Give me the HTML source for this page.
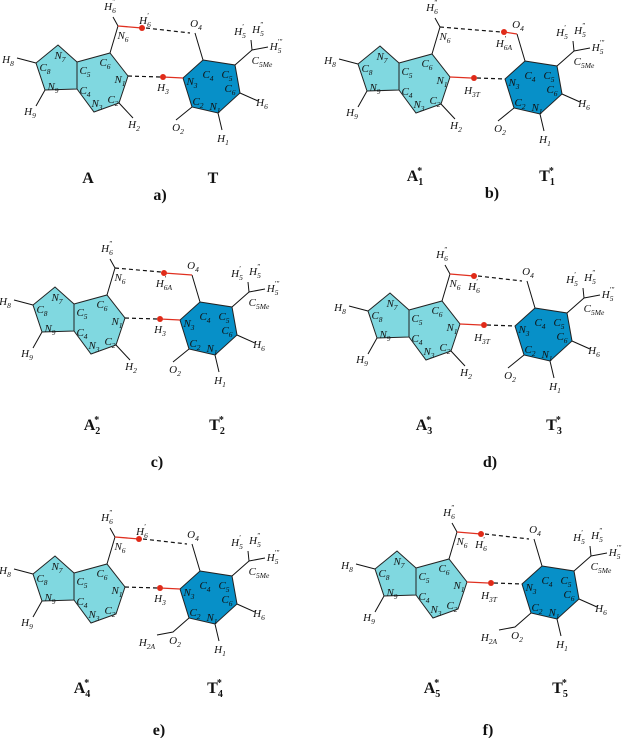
<!DOCTYPE html>
<html><head><meta charset="utf-8"><style>
html,body{margin:0;padding:0;background:#fff}
svg{display:block}
.p{fill:#80d8e0;stroke:#222;stroke-width:1}
.q{fill:#0790c8;stroke:#222;stroke-width:1}
.k{stroke:#111;stroke-width:1;fill:none}
.r{stroke:#e03020;stroke-width:1.3;fill:none}
.d{stroke:#111;stroke-width:1.2;fill:none;stroke-dasharray:4,3}
.dot{fill:#e02a18}
text{font-family:"Liberation Serif",serif;font-style:italic;font-size:11px;fill:#111;text-anchor:middle}
.s{font-size:7.5px}
.L{font-style:normal;font-weight:bold;font-size:16px}
.L .s{font-size:10px}
</style></head><body>
<svg width="624" height="738" viewBox="0 0 624 738" xmlns="http://www.w3.org/2000/svg">

<!-- panel a -->
<g transform="translate(0,0)">
<polygon class="p" points="77,62 58,45 36,63 45,90 77,89"/>
<polygon class="p" points="77,62 110,53 128,76 119,103 94,112 77,89"/>
<polygon class="q" points="203,60 235,65 240,93 218,113 192,107 183,78"/>
<path class="k" d="M17,58L36,63M45,90L36,106M119,103L133,118M110,53L118,26M118,26L113,17M195,33L203,60M235,65L252,50M252,50L268,47M252,50L251,40M240,93L258,101M218,113L222,130M192,107L176,120"/>
<path class="r" d="M118,26L142,28"/><circle class="dot" cx="142" cy="28" r="3"/><path class="d" d="M146,28L190,33"/>
<path class="d" d="M128,76L160,77"/><circle class="dot" cx="163" cy="77" r="3"/><path class="r" d="M163,77L183,78"/>
<text x="145" y="24">H<tspan class="s" dy="3">6</tspan><tspan class="s" dx="-4" dy="-9">'</tspan></text>
<text x="163" y="91">H<tspan class="s" dy="3">3</tspan></text>
<text x="60" y="59">N<tspan class="s" dy="3">7</tspan></text><text x="45" y="71">C<tspan class="s" dy="3">8</tspan></text><text x="53" y="90">N<tspan class="s" dy="3">9</tspan></text><text x="85" y="74">C<tspan class="s" dy="3">5</tspan></text><text x="85" y="94">C<tspan class="s" dy="3">4</tspan></text><text x="105" y="66">C<tspan class="s" dy="3">6</tspan></text><text x="120" y="83">N<tspan class="s" dy="3">1</tspan></text><text x="113" y="103">C<tspan class="s" dy="3">2</tspan></text><text x="97" y="107">N<tspan class="s" dy="3">3</tspan></text><text x="123" y="39">N<tspan class="s" dy="3">6</tspan></text>
<text x="208" y="78">C<tspan class="s" dy="3">4</tspan></text><text x="227" y="78">C<tspan class="s" dy="3">5</tspan></text><text x="192" y="85">N<tspan class="s" dy="3">3</tspan></text><text x="230" y="92">C<tspan class="s" dy="3">6</tspan></text><text x="198" y="105">C<tspan class="s" dy="3">2</tspan></text><text x="215" y="110">N<tspan class="s" dy="3">1</tspan></text>
<text x="8" y="63">H<tspan class="s" dy="3">8</tspan></text><text x="30" y="115">H<tspan class="s" dy="3">9</tspan></text><text x="134" y="128">H<tspan class="s" dy="3">2</tspan></text><text x="110" y="10">H<tspan class="s" dy="3">6</tspan><tspan class="s" dx="-4" dy="-9">"</tspan></text><text x="196" y="27">O<tspan class="s" dy="3">4</tspan></text><text x="262" y="106">H<tspan class="s" dy="3">6</tspan></text><text x="223" y="142">H<tspan class="s" dy="3">1</tspan></text><text x="178" y="131">O<tspan class="s" dy="3">2</tspan></text>
<text x="240" y="35">H<tspan class="s" dy="3">5</tspan><tspan class="s" dx="-4" dy="-9">'</tspan></text><text x="258" y="33">H<tspan class="s" dy="3">5</tspan><tspan class="s" dx="-4" dy="-9">"</tspan></text><text x="276" y="50">H<tspan class="s" dy="3">5</tspan><tspan class="s" dx="-4" dy="-9">'"</tspan></text><text x="262" y="64">C<tspan class="s" dy="3">5Me</tspan></text>
</g>
<text class="L" x="88" y="183">A</text><text class="L" x="213" y="183">T</text><text class="L" x="160" y="200">a)</text>

<!-- panel b -->
<g transform="translate(322,1)">
<polygon class="p" points="77,62 58,45 36,63 45,90 77,89"/>
<polygon class="p" points="77,62 110,53 128,76 119,103 94,112 77,89"/>
<polygon class="q" points="203,60 235,65 240,93 218,113 192,107 183,78"/>
<path class="k" d="M17,58L36,63M45,90L36,106M119,103L133,118M110,53L118,26M118,26L113,17M195,33L203,60M235,65L252,50M252,50L268,47M252,50L251,40M240,93L258,101M218,113L222,130M192,107L176,120"/>
<path class="d" d="M118,26L179,31"/><circle class="dot" cx="182" cy="31" r="3"/><path class="r" d="M182,31L195,33"/>
<path class="r" d="M128,76L149,77"/><circle class="dot" cx="152" cy="77" r="3"/><path class="d" d="M155,77L183,78"/>
<text x="182" y="46">H<tspan class="s" dy="3">6A</tspan><tspan class="s" dx="-8" dy="-9">'</tspan></text>
<text x="150" y="93">H<tspan class="s" dy="3">3T</tspan></text>
<text x="60" y="59">N<tspan class="s" dy="3">7</tspan></text><text x="45" y="71">C<tspan class="s" dy="3">8</tspan></text><text x="53" y="90">N<tspan class="s" dy="3">9</tspan></text><text x="85" y="74">C<tspan class="s" dy="3">5</tspan></text><text x="85" y="94">C<tspan class="s" dy="3">4</tspan></text><text x="105" y="66">C<tspan class="s" dy="3">6</tspan></text><text x="120" y="83">N<tspan class="s" dy="3">1</tspan></text><text x="113" y="103">C<tspan class="s" dy="3">2</tspan></text><text x="97" y="107">N<tspan class="s" dy="3">3</tspan></text><text x="123" y="39">N<tspan class="s" dy="3">6</tspan></text>
<text x="208" y="78">C<tspan class="s" dy="3">4</tspan></text><text x="227" y="78">C<tspan class="s" dy="3">5</tspan></text><text x="192" y="85">N<tspan class="s" dy="3">3</tspan></text><text x="230" y="92">C<tspan class="s" dy="3">6</tspan></text><text x="198" y="105">C<tspan class="s" dy="3">2</tspan></text><text x="215" y="110">N<tspan class="s" dy="3">1</tspan></text>
<text x="8" y="63">H<tspan class="s" dy="3">8</tspan></text><text x="30" y="115">H<tspan class="s" dy="3">9</tspan></text><text x="134" y="128">H<tspan class="s" dy="3">2</tspan></text><text x="110" y="10">H<tspan class="s" dy="3">6</tspan><tspan class="s" dx="-4" dy="-9">"</tspan></text><text x="196" y="27">O<tspan class="s" dy="3">4</tspan></text><text x="262" y="106">H<tspan class="s" dy="3">6</tspan></text><text x="223" y="142">H<tspan class="s" dy="3">1</tspan></text><text x="178" y="131">O<tspan class="s" dy="3">2</tspan></text>
<text x="240" y="35">H<tspan class="s" dy="3">5</tspan><tspan class="s" dx="-4" dy="-9">'</tspan></text><text x="258" y="33">H<tspan class="s" dy="3">5</tspan><tspan class="s" dx="-4" dy="-9">"</tspan></text><text x="276" y="50">H<tspan class="s" dy="3">5</tspan><tspan class="s" dx="-4" dy="-9">'"</tspan></text><text x="262" y="64">C<tspan class="s" dy="3">5Me</tspan></text>
</g>
<text class="L" x="415" y="181">A<tspan class="s" dy="4">1</tspan><tspan class="s" dx="-6" dy="-11">*</tspan></text><text class="L" x="547" y="181">T<tspan class="s" dy="4">1</tspan><tspan class="s" dx="-6" dy="-11">*</tspan></text><text class="L" x="492" y="198">b)</text>

<!-- panel c -->
<g transform="translate(-3,242)">
<polygon class="p" points="77,62 58,45 36,63 45,90 77,89"/>
<polygon class="p" points="77,62 110,53 128,76 119,103 94,112 77,89"/>
<polygon class="q" points="203,60 235,65 240,93 218,113 192,107 183,78"/>
<path class="k" d="M17,58L36,63M45,90L36,106M119,103L133,118M110,53L118,26M118,26L113,17M195,33L203,60M235,65L252,50M252,50L268,47M252,50L251,40M240,93L258,101M218,113L222,130M192,107L176,120"/>
<path class="d" d="M118,26L164,30"/><circle class="dot" cx="167" cy="31" r="3"/><path class="r" d="M167,31L195,33"/>
<path class="d" d="M128,76L160,77"/><circle class="dot" cx="163" cy="77" r="3"/><path class="r" d="M163,77L183,78"/>
<text x="167" y="45">H<tspan class="s" dy="3">6A</tspan><tspan class="s" dx="-8" dy="-9">'</tspan></text>
<text x="163" y="91">H<tspan class="s" dy="3">3</tspan></text>
<text x="60" y="59">N<tspan class="s" dy="3">7</tspan></text><text x="45" y="71">C<tspan class="s" dy="3">8</tspan></text><text x="53" y="90">N<tspan class="s" dy="3">9</tspan></text><text x="85" y="74">C<tspan class="s" dy="3">5</tspan></text><text x="85" y="94">C<tspan class="s" dy="3">4</tspan></text><text x="105" y="66">C<tspan class="s" dy="3">6</tspan></text><text x="120" y="83">N<tspan class="s" dy="3">1</tspan></text><text x="113" y="103">C<tspan class="s" dy="3">2</tspan></text><text x="97" y="107">N<tspan class="s" dy="3">3</tspan></text><text x="123" y="39">N<tspan class="s" dy="3">6</tspan></text>
<text x="208" y="78">C<tspan class="s" dy="3">4</tspan></text><text x="227" y="78">C<tspan class="s" dy="3">5</tspan></text><text x="192" y="85">N<tspan class="s" dy="3">3</tspan></text><text x="230" y="92">C<tspan class="s" dy="3">6</tspan></text><text x="198" y="105">C<tspan class="s" dy="3">2</tspan></text><text x="215" y="110">N<tspan class="s" dy="3">1</tspan></text>
<text x="8" y="63">H<tspan class="s" dy="3">8</tspan></text><text x="30" y="115">H<tspan class="s" dy="3">9</tspan></text><text x="134" y="128">H<tspan class="s" dy="3">2</tspan></text><text x="110" y="10">H<tspan class="s" dy="3">6</tspan><tspan class="s" dx="-4" dy="-9">"</tspan></text><text x="196" y="27">O<tspan class="s" dy="3">4</tspan></text><text x="262" y="106">H<tspan class="s" dy="3">6</tspan></text><text x="223" y="142">H<tspan class="s" dy="3">1</tspan></text><text x="178" y="131">O<tspan class="s" dy="3">2</tspan></text>
<text x="240" y="35">H<tspan class="s" dy="3">5</tspan><tspan class="s" dx="-4" dy="-9">'</tspan></text><text x="258" y="33">H<tspan class="s" dy="3">5</tspan><tspan class="s" dx="-4" dy="-9">"</tspan></text><text x="276" y="50">H<tspan class="s" dy="3">5</tspan><tspan class="s" dx="-4" dy="-9">'"</tspan></text><text x="262" y="64">C<tspan class="s" dy="3">5Me</tspan></text>
</g>
<text class="L" x="92" y="430">A<tspan class="s" dy="4">2</tspan><tspan class="s" dx="-6" dy="-11">*</tspan></text><text class="L" x="217" y="430">T<tspan class="s" dy="4">2</tspan><tspan class="s" dx="-6" dy="-11">*</tspan></text><text class="L" x="157" y="467">c)</text>

<!-- panel d -->
<g transform="translate(332,248)">
<polygon class="p" points="77,62 58,45 36,63 45,90 77,89"/>
<polygon class="p" points="77,62 110,53 128,76 119,103 94,112 77,89"/>
<polygon class="q" points="203,60 235,65 240,93 218,113 192,107 183,78"/>
<path class="k" d="M17,58L36,63M45,90L36,106M119,103L133,118M110,53L118,26M118,26L113,17M195,33L203,60M235,65L252,50M252,50L268,47M252,50L251,40M240,93L258,101M218,113L222,130M192,107L176,120"/>
<path class="r" d="M118,26L142,28"/><circle class="dot" cx="142" cy="28" r="3"/><path class="d" d="M146,28L190,33"/>
<path class="r" d="M128,76L149,77"/><circle class="dot" cx="152" cy="77" r="3"/><path class="d" d="M155,77L183,78"/>
<text x="142" y="42">H<tspan class="s" dy="3">6</tspan><tspan class="s" dx="-4" dy="-9">'</tspan></text>
<text x="150" y="93">H<tspan class="s" dy="3">3T</tspan></text>
<text x="60" y="59">N<tspan class="s" dy="3">7</tspan></text><text x="45" y="71">C<tspan class="s" dy="3">8</tspan></text><text x="53" y="90">N<tspan class="s" dy="3">9</tspan></text><text x="85" y="74">C<tspan class="s" dy="3">5</tspan></text><text x="85" y="94">C<tspan class="s" dy="3">4</tspan></text><text x="105" y="66">C<tspan class="s" dy="3">6</tspan></text><text x="120" y="83">N<tspan class="s" dy="3">1</tspan></text><text x="113" y="103">C<tspan class="s" dy="3">2</tspan></text><text x="97" y="107">N<tspan class="s" dy="3">3</tspan></text><text x="123" y="39">N<tspan class="s" dy="3">6</tspan></text>
<text x="208" y="78">C<tspan class="s" dy="3">4</tspan></text><text x="227" y="78">C<tspan class="s" dy="3">5</tspan></text><text x="192" y="85">N<tspan class="s" dy="3">3</tspan></text><text x="230" y="92">C<tspan class="s" dy="3">6</tspan></text><text x="198" y="105">C<tspan class="s" dy="3">2</tspan></text><text x="215" y="110">N<tspan class="s" dy="3">1</tspan></text>
<text x="8" y="63">H<tspan class="s" dy="3">8</tspan></text><text x="30" y="115">H<tspan class="s" dy="3">9</tspan></text><text x="134" y="128">H<tspan class="s" dy="3">2</tspan></text><text x="110" y="10">H<tspan class="s" dy="3">6</tspan><tspan class="s" dx="-4" dy="-9">"</tspan></text><text x="196" y="27">O<tspan class="s" dy="3">4</tspan></text><text x="262" y="106">H<tspan class="s" dy="3">6</tspan></text><text x="223" y="142">H<tspan class="s" dy="3">1</tspan></text><text x="178" y="131">O<tspan class="s" dy="3">2</tspan></text>
<text x="240" y="35">H<tspan class="s" dy="3">5</tspan><tspan class="s" dx="-4" dy="-9">'</tspan></text><text x="258" y="33">H<tspan class="s" dy="3">5</tspan><tspan class="s" dx="-4" dy="-9">"</tspan></text><text x="276" y="50">H<tspan class="s" dy="3">5</tspan><tspan class="s" dx="-4" dy="-9">'"</tspan></text><text x="262" y="64">C<tspan class="s" dy="3">5Me</tspan></text>
</g>
<text class="L" x="424" y="430">A<tspan class="s" dy="4">3</tspan><tspan class="s" dx="-6" dy="-11">*</tspan></text><text class="L" x="554" y="430">T<tspan class="s" dy="4">3</tspan><tspan class="s" dx="-6" dy="-11">*</tspan></text><text class="L" x="490" y="467">d)</text>

<!-- panel e -->
<g transform="translate(-3,511)">
<polygon class="p" points="77,62 58,45 36,63 45,90 77,89"/>
<polygon class="p" points="77,62 110,53 128,76 119,103 94,112 77,89"/>
<polygon class="q" points="203,60 235,65 240,93 218,113 192,107 183,78"/>
<path class="k" d="M17,58L36,63M45,90L36,106M110,53L118,26M118,26L113,17M195,33L203,60M235,65L252,50M252,50L268,47M252,50L251,40M240,93L258,101M218,113L222,130M192,107L176,121L160,124"/>
<path class="r" d="M118,26L142,28"/><circle class="dot" cx="142" cy="28" r="3"/><path class="d" d="M146,28L190,33"/>
<path class="d" d="M128,76L160,77"/><circle class="dot" cx="163" cy="77" r="3"/><path class="r" d="M163,77L183,78"/>
<text x="145" y="24">H<tspan class="s" dy="3">6</tspan><tspan class="s" dx="-4" dy="-9">'</tspan></text>
<text x="163" y="91">H<tspan class="s" dy="3">3</tspan></text>
<text x="60" y="59">N<tspan class="s" dy="3">7</tspan></text><text x="45" y="71">C<tspan class="s" dy="3">8</tspan></text><text x="53" y="90">N<tspan class="s" dy="3">9</tspan></text><text x="85" y="74">C<tspan class="s" dy="3">5</tspan></text><text x="85" y="94">C<tspan class="s" dy="3">4</tspan></text><text x="105" y="66">C<tspan class="s" dy="3">6</tspan></text><text x="120" y="83">N<tspan class="s" dy="3">1</tspan></text><text x="113" y="103">C<tspan class="s" dy="3">2</tspan></text><text x="97" y="107">N<tspan class="s" dy="3">3</tspan></text><text x="123" y="39">N<tspan class="s" dy="3">6</tspan></text>
<text x="208" y="78">C<tspan class="s" dy="3">4</tspan></text><text x="227" y="78">C<tspan class="s" dy="3">5</tspan></text><text x="192" y="85">N<tspan class="s" dy="3">3</tspan></text><text x="230" y="92">C<tspan class="s" dy="3">6</tspan></text><text x="198" y="105">C<tspan class="s" dy="3">2</tspan></text><text x="215" y="110">N<tspan class="s" dy="3">1</tspan></text>
<text x="8" y="63">H<tspan class="s" dy="3">8</tspan></text><text x="30" y="115">H<tspan class="s" dy="3">9</tspan></text><text x="110" y="10">H<tspan class="s" dy="3">6</tspan><tspan class="s" dx="-4" dy="-9">"</tspan></text><text x="196" y="27">O<tspan class="s" dy="3">4</tspan></text><text x="262" y="106">H<tspan class="s" dy="3">6</tspan></text><text x="223" y="142">H<tspan class="s" dy="3">1</tspan></text><text x="178" y="133">O<tspan class="s" dy="3">2</tspan></text><text x="150" y="135">H<tspan class="s" dy="3">2A</tspan></text>
<text x="240" y="35">H<tspan class="s" dy="3">5</tspan><tspan class="s" dx="-4" dy="-9">'</tspan></text><text x="258" y="33">H<tspan class="s" dy="3">5</tspan><tspan class="s" dx="-4" dy="-9">"</tspan></text><text x="276" y="50">H<tspan class="s" dy="3">5</tspan><tspan class="s" dx="-4" dy="-9">'"</tspan></text><text x="262" y="64">C<tspan class="s" dy="3">5Me</tspan></text>
</g>
<text class="L" x="82" y="693">A<tspan class="s" dy="4">4</tspan><tspan class="s" dx="-6" dy="-11">*</tspan></text><text class="L" x="215" y="693">T<tspan class="s" dy="4">4</tspan><tspan class="s" dx="-6" dy="-11">*</tspan></text><text class="L" x="159" y="735">e)</text>

<!-- panel f -->
<g transform="translate(339,506)">
<polygon class="p" points="77,62 58,45 36,63 45,90 77,89"/>
<polygon class="p" points="77,62 110,53 128,76 119,103 94,112 77,89"/>
<polygon class="q" points="203,60 235,65 240,93 218,113 192,107 183,78"/>
<path class="k" d="M17,58L36,63M45,90L36,106M110,53L118,26M118,26L113,17M195,33L203,60M235,65L252,50M252,50L268,47M252,50L251,40M240,93L258,101M218,113L222,130M192,107L176,121L160,124"/>
<path class="r" d="M118,26L142,28"/><circle class="dot" cx="142" cy="28" r="3"/><path class="d" d="M146,28L190,33"/>
<path class="r" d="M128,76L149,77"/><circle class="dot" cx="152" cy="77" r="3"/><path class="d" d="M155,77L183,78"/>
<text x="142" y="42">H<tspan class="s" dy="3">6</tspan><tspan class="s" dx="-4" dy="-9">'</tspan></text>
<text x="150" y="93">H<tspan class="s" dy="3">3T</tspan></text>
<text x="60" y="59">N<tspan class="s" dy="3">7</tspan></text><text x="45" y="71">C<tspan class="s" dy="3">8</tspan></text><text x="53" y="90">N<tspan class="s" dy="3">9</tspan></text><text x="85" y="74">C<tspan class="s" dy="3">5</tspan></text><text x="85" y="94">C<tspan class="s" dy="3">4</tspan></text><text x="105" y="66">C<tspan class="s" dy="3">6</tspan></text><text x="120" y="83">N<tspan class="s" dy="3">1</tspan></text><text x="113" y="103">C<tspan class="s" dy="3">2</tspan></text><text x="97" y="107">N<tspan class="s" dy="3">3</tspan></text><text x="123" y="39">N<tspan class="s" dy="3">6</tspan></text>
<text x="208" y="78">C<tspan class="s" dy="3">4</tspan></text><text x="227" y="78">C<tspan class="s" dy="3">5</tspan></text><text x="192" y="85">N<tspan class="s" dy="3">3</tspan></text><text x="230" y="92">C<tspan class="s" dy="3">6</tspan></text><text x="198" y="105">C<tspan class="s" dy="3">2</tspan></text><text x="215" y="110">N<tspan class="s" dy="3">1</tspan></text>
<text x="8" y="63">H<tspan class="s" dy="3">8</tspan></text><text x="30" y="115">H<tspan class="s" dy="3">9</tspan></text><text x="110" y="10">H<tspan class="s" dy="3">6</tspan><tspan class="s" dx="-4" dy="-9">"</tspan></text><text x="196" y="27">O<tspan class="s" dy="3">4</tspan></text><text x="262" y="106">H<tspan class="s" dy="3">6</tspan></text><text x="223" y="142">H<tspan class="s" dy="3">1</tspan></text><text x="178" y="133">O<tspan class="s" dy="3">2</tspan></text><text x="150" y="135">H<tspan class="s" dy="3">2A</tspan></text>
<text x="240" y="35">H<tspan class="s" dy="3">5</tspan><tspan class="s" dx="-4" dy="-9">'</tspan></text><text x="258" y="33">H<tspan class="s" dy="3">5</tspan><tspan class="s" dx="-4" dy="-9">"</tspan></text><text x="276" y="50">H<tspan class="s" dy="3">5</tspan><tspan class="s" dx="-4" dy="-9">'"</tspan></text><text x="262" y="64">C<tspan class="s" dy="3">5Me</tspan></text>
</g>
<text class="L" x="432" y="693">A<tspan class="s" dy="4">5</tspan><tspan class="s" dx="-6" dy="-11">*</tspan></text><text class="L" x="560" y="693">T<tspan class="s" dy="4">5</tspan><tspan class="s" dx="-6" dy="-11">*</tspan></text><text class="L" x="488" y="735">f)</text>
</svg>
</body></html>
